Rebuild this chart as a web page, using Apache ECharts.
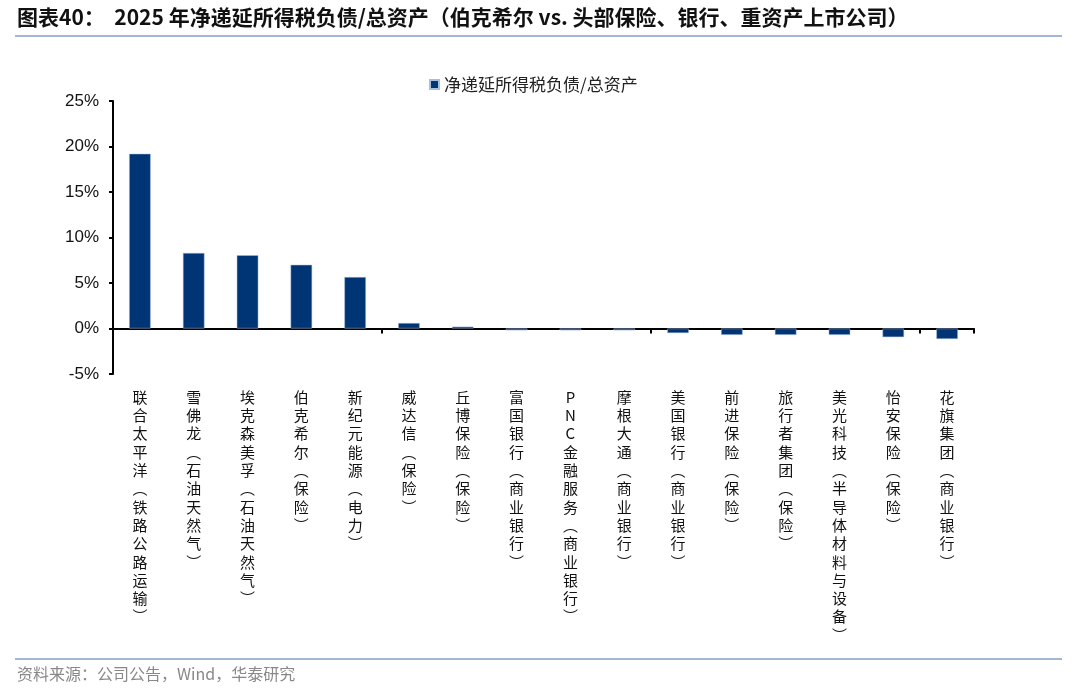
<!DOCTYPE html>
<html>
<head>
<meta charset="utf-8">
<script src="https://cdn.jsdelivr.net/npm/echarts@6/dist/echarts.min.js"></script>
<style>
  html, body { margin: 0; padding: 0; background: #fff; }
  #chart { width: 1080px; height: 693px; }
</style>
</head>
<body>
<div id="chart"></div>
<script>
// 公司名称（含行业）
const companies = [
  "联合太平洋（铁路公路运输）", "雪佛龙（石油天然气）", "埃克森美孚（石油天然气）",
  "伯克希尔（保险）", "新纪元能源（电力）", "威达信（保险）", "丘博保险（保险）",
  "富国银行（商业银行）", "PNC金融服务（商业银行）", "摩根大通（商业银行）",
  "美国银行（商业银行）", "前进保险（保险）", "旅行者集团（保险）",
  "美光科技（半导体材料与设备）", "怡安保险（保险）", "花旗集团（商业银行）"
];
// 净递延所得税负债/总资产 (%)
const ratio = [19.2, 8.3, 8.05, 7.0, 5.65, 0.6, 0.2, -0.2, -0.2, -0.2, -0.5, -0.7, -0.7, -0.7, -0.95, -1.15];
const yTicks = [-5, 0, 5, 10, 15, 20, 25];

const seriesName = "净递延所得税负债/总资产";
const barColor = "#003575";

// 竖排标签：逐字换行，括号换成竖排形式
function verticalLabel(s) {
  return s.replace(/（/g, "︵").replace(/）/g, "︶").split("").join("\n");
}

const myChart = echarts.init(document.getElementById("chart"));
myChart.setOption({
  animation: false,
  textStyle: { fontFamily: "Liberation Sans, Noto Sans CJK SC" },
  legend: {
    data: [seriesName],
    left: 424,
    top: 71,
    icon: "rect",
    itemWidth: 9,
    itemHeight: 9,
    itemGap: 7,
    textStyle: { fontSize: 17, color: "#222", fontFamily: "Noto Sans CJK SC" }
  },
  grid: { left: 113, right: 106, top: 101, bottom: 319 },
  xAxis: [
    {
      type: "category",
      data: companies,
      axisLine: { onZero: true, lineStyle: { color: "#000", width: 2 } },
      axisTick: { show: true, alignWithLabel: false, length: 5, lineStyle: { color: "#000", width: 2 } },
      axisLabel: { show: false }
    },
    {
      type: "category",
      data: companies,
      position: "bottom",
      axisLine: { show: false },
      axisTick: { show: false },
      axisLabel: {
        interval: 0,
        margin: 14,
        fontSize: 15,
        lineHeight: 18.3,
        color: "#111",
        fontFamily: "Noto Sans CJK SC",
        verticalAlign: "top",
        formatter: verticalLabel
      }
    }
  ],
  yAxis: {
    type: "value",
    min: yTicks[0],
    max: yTicks[yTicks.length - 1],
    interval: 5,
    axisLine: { show: true, lineStyle: { color: "#000", width: 2 } },
    axisTick: { show: true, length: 4, lineStyle: { color: "#000", width: 2 } },
    splitLine: { show: false },
    axisLabel: { formatter: "{value}%", fontSize: 17, color: "#111", margin: 14 }
  },
  series: [
    {
      name: seriesName,
      type: "bar",
      xAxisIndex: 0,
      data: ratio,
      barWidth: "40%",
      itemStyle: { color: barColor, borderColor: "#a9bde0", borderWidth: 0.5 }
    }
  ],
  graphic: [
    {
      type: "text",
      left: 17,
      top: 7,
      style: {
        text: "图表40：  2025 年净递延所得税负债/总资产（伯克希尔 vs. 头部保险、银行、重资产上市公司）",
        font: "bold 21px 'Noto Sans CJK SC'",
        fill: "#111"
      }
    },
    {
      type: "line",
      shape: { x1: 15, y1: 36, x2: 1062, y2: 36 },
      style: { stroke: "#a3b6d2", lineWidth: 2 }
    },
    {
      type: "line",
      shape: { x1: 15, y1: 659, x2: 1062, y2: 659 },
      style: { stroke: "#a3b6d2", lineWidth: 2 }
    },
    {
      type: "text",
      left: 17,
      top: 666,
      style: {
        text: "资料来源：公司公告，Wind，华泰研究",
        font: "16px 'Noto Sans CJK SC'",
        fill: "#888"
      }
    }
  ]
});
</script>
</body>
</html>
